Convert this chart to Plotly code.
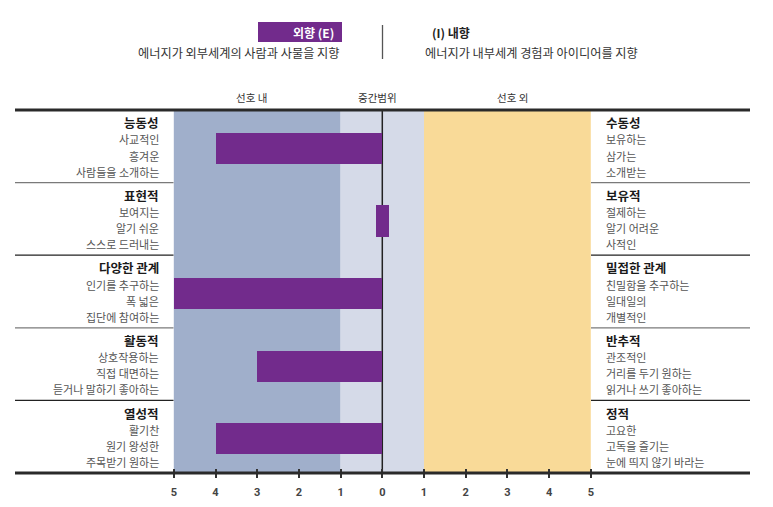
import plotly.graph_objects as go

# chart data
left_titles = ["능동성", "표현적", "다양한 관계", "활동적", "열성적"]
left_items = [
    ["사교적인", "흥겨운", "사람들을 소개하는"],
    ["보여지는", "알기 쉬운", "스스로 드러내는"],
    ["인기를 추구하는", "폭 넓은", "집단에 참여하는"],
    ["상호작용하는", "직접 대면하는", "듣거나 말하기 좋아하는"],
    ["활기찬", "원기 왕성한", "주목받기 원하는"],
]
right_titles = ["수동성", "보유적", "밀접한 관계", "반추적", "정적"]
right_items = [
    ["보유하는", "삼가는", "소개받는"],
    ["절제하는", "알기 어려운", "사적인"],
    ["친밀함을 추구하는", "일대일의", "개별적인"],
    ["관조적인", "거리를 두기 원하는", "읽거나 쓰기 좋아하는"],
    ["고요한", "고독을 즐기는", "눈에 띄지 않기 바라는"],
]
scores = [-4, 0, -5, -3, -4]   # negative = 외향 side

tick_vals = [-5, -4, -3, -2, -1, 0, 1, 2, 3, 4, 5]
tick_text = ["5", "4", "3", "2", "1", "0", "1", "2", "3", "4", "5"]
band_labels = ["선호 내", "중간범위", "선호 외"]

# page has an 8px body margin, so the figure is shrunk and shifted by it
OFF = 8
W, H = 773 - OFF, 507 - OFF
PLOT_BOTTOM = 468 - OFF    # figure row where plot area ends (ticks start)
X0_PX, UNIT = 382.3 - OFF, 41.7
TOP_PX, GROUP_PX = 110, 72.6

FONT = "Noto Sans CJK KR"
PURPLE = "#722B8C"


def px(x):
    # x in reference-page pixels -> paper
    return (x - OFF) / W


def py(y):
    # y in reference-page pixels -> paper
    return (PLOT_BOTTOM - (y - OFF)) / PLOT_BOTTOM


n = len(scores)
ys = list(range(n))
bar_x = [s if s != 0 else 0.3 for s in scores]
bar_base = [0 if s != 0 else -0.15 for s in scores]

fig = go.Figure()
fig.add_trace(go.Bar(
    x=bar_x, y=ys, base=bar_base, orientation="h",
    width=0.43, offset=-0.185,
    marker=dict(color=PURPLE, line=dict(width=0)),
    hoverinfo="skip", showlegend=False,
))

shapes = []
# background bands
for (a, b, c) in [(-5, -1, "#A0AFCB"), (-1, 1, "#D5DAE8"), (1, 5, "#F9DA98")]:
    shapes.append(dict(type="rect", xref="x", yref="paper", x0=a, x1=b,
                       y0=py(473), y1=py(TOP_PX), fillcolor=c,
                       line=dict(width=0), layer="below"))
# zero line
shapes.append(dict(type="line", xref="x", yref="paper", x0=0, x1=0,
                   y0=py(473), y1=py(TOP_PX), line=dict(color="#222", width=1.5),
                   layer="below"))
# group separators in label areas
for i in range(1, n):
    yy = py(TOP_PX + i * GROUP_PX)
    col = "#7a7a7a" if i % 2 == 1 else "#222"
    for (a, b) in [(15, 173.5), (591, 750)]:
        shapes.append(dict(type="line", xref="paper", yref="paper",
                           x0=px(a), x1=px(b), y0=yy, y1=yy,
                           line=dict(color=col, width=1.3)))
# top and bottom thick lines
for yp in [TOP_PX, 473]:
    shapes.append(dict(type="line", xref="paper", yref="paper",
                       x0=px(15), x1=px(750), y0=py(yp), y1=py(yp),
                       line=dict(color="#2a2a2a", width=3)))
# header divider
shapes.append(dict(type="line", xref="paper", yref="paper",
                   x0=px(382.5), x1=px(382.5), y0=py(25), y1=py(59),
                   line=dict(color="#555", width=1.3)))
# purple header box
shapes.append(dict(type="rect", xref="paper", yref="paper",
                   x0=px(258), x1=px(342), y0=py(42), y1=py(22),
                   fillcolor=PURPLE, line=dict(width=0)))

ann = []


def text(x, y, s, anchor, size=11, color="#555", bold=False):
    ann.append(dict(xref="paper", yref="paper", x=px(x), y=py(y), text=s,
                    showarrow=False, xanchor=anchor, yanchor="middle",
                    font=dict(family=FONT, size=size, color=color,
                              weight="bold" if bold else "normal")))


for i in range(n):
    top = TOP_PX + i * GROUP_PX
    text(161, top + 12.7, left_titles[i], "right", 12.5, "#1a1a1a", True)
    text(604, top + 12.7, right_titles[i], "left", 12.5, "#1a1a1a", True)
    for j in range(3):
        text(161, top + 29.5 + j * 16, left_items[i][j], "right")
        text(604, top + 29.5 + j * 16, right_items[i][j], "left")

# header texts
text(336, 32.5, "외향 (E)", "right", 12, "white", True)
text(342, 53, "에너지가 외부세계의 사람과 사물을 지향", "right", 12.2, "#333")
text(430, 32.5, "(I) 내향", "left", 12, "#222", True)
text(423, 53, "에너지가 내부세계 경험과 아이디어를 지향", "left", 12.2, "#333")
for lbl, xc in zip(band_labels, [252, 377, 512]):
    text(xc, 97.5, lbl, "center", 10.5, "#333")

fig.update_layout(
    width=W, height=H,
    margin=dict(l=0, r=0, t=0, b=H - PLOT_BOTTOM),
    plot_bgcolor="white", paper_bgcolor="white",
    shapes=shapes, annotations=ann, bargap=0,
    xaxis=dict(range=[-X0_PX / UNIT, (W - X0_PX) / UNIT],
               showgrid=False, zeroline=False, showline=False,
               tickvals=tick_vals, ticktext=tick_text,
               ticks="outside", ticklen=9, tickwidth=1.5, tickcolor="#333",
               ticklabelstandoff=5,
               tickfont=dict(family="Roboto", size=11, color="#444", weight="bold"),
               fixedrange=True),
    yaxis=dict(range=[-0.5 + (PLOT_BOTTOM + OFF - TOP_PX) / GROUP_PX,
                      -0.5 - (TOP_PX - OFF) / GROUP_PX],
               showgrid=False, zeroline=False, showline=False,
               showticklabels=False, ticks="", fixedrange=True),
)

fig.write_html("out.html")
